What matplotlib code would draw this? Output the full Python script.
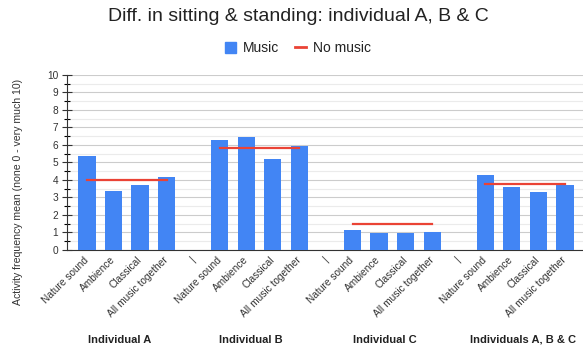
import matplotlib.pyplot as plt
from matplotlib.lines import Line2D
from matplotlib.patches import Patch
import numpy as np

plt.rcParams['font.family'] = ['Liberation Sans', 'DejaVu Sans']

# Data: one group of four music conditions per individual, "|" spacer between groups
groups = ['Individual A', 'Individual B', 'Individual C', 'Individuals A, B & C']
conditions = ['Nature sound', 'Ambience', 'Classical', 'All music together']
music_a = [5.37, 3.37, 3.7, 4.17]
music_b = [6.3, 6.44, 5.2, 5.96]
music_c = [1.14, 0.97, 0.97, 1.02]
music_abc = [4.27, 3.6, 3.3, 3.7]
no_music = [4.0, 5.84, 1.5, 3.78]
group_label_pos = [1.24, 6.18, 11.23, 16.42]

music = [music_a, music_b, music_c, music_abc]

blue = '#4285F4'
red = '#EA4335'
text_dark = '#222222'

fig = plt.figure(figsize=(5.83, 3.48), dpi=100)
ax = fig.add_axes([0.115, 0.2816, 0.885, 0.503])

labels = []
for g, vals in enumerate(music):
    start = g * 5
    xs = np.arange(start, start + 4)
    ax.bar(xs, vals, width=0.65, color=blue, zorder=3)
    ax.plot([xs[0], xs[-1]], [no_music[g], no_music[g]], color=red, lw=1.6, zorder=4)
    labels += conditions
    if g < len(music) - 1:
        labels.append('|')

ax.set_xticks(np.arange(len(labels)))
ax.set_xticklabels(labels, rotation=45, ha='right', va='center', rotation_mode='anchor',
                   fontsize=7.3, color='#333333')
ax.tick_params(axis='x', length=0, pad=6)

ax.set_xlim(-0.75, 18.68)
ax.set_ylim(0, 10)
ax.set_yticks(range(0, 11))
ax.set_yticks(np.arange(0.5, 10, 0.5), minor=True)
ax.tick_params(axis='y', which='major', direction='inout', length=7, width=0.8, labelsize=7.3,
               colors='#333333', pad=3)
ax.tick_params(axis='y', which='minor', direction='inout', length=5, width=0.8)
ax.grid(axis='y', which='major', color='#cccccc', lw=0.8, zorder=0)
ax.grid(axis='y', which='minor', color='#ebebeb', lw=0.8, zorder=0)

for side in ['top', 'right']:
    ax.spines[side].set_visible(False)
ax.spines['left'].set_color('#333333')
ax.spines['bottom'].set_color('#333333')

ax.set_ylabel('Activity frequency mean (none 0 - very much 10)', fontsize=7.6, color='#333333')
ax.yaxis.set_label_coords(-0.085, 0.331)

for name, pos in zip(groups, group_label_pos):
    ax.text(pos, -0.514, name, transform=ax.get_xaxis_transform(), ha='center', va='center',
            fontsize=8, fontweight='bold', color=text_dark)

fig.text(0.512, 0.952, 'Diff. in sitting & standing: individual A, B & C', ha='center', va='center',
         fontsize=14, color=text_dark)

handles = [Patch(color=blue, label='Music'), Line2D([0], [0], color=red, lw=2, label='No music')]
fig.legend(handles=handles, loc='center', bbox_to_anchor=(0.511, 0.861), ncol=2, frameon=False,
           fontsize=10, handlelength=0.8, handleheight=0.8, columnspacing=1.1, handletextpad=0.5,
           labelcolor=text_dark)

fig.savefig('out.png', dpi=100)
